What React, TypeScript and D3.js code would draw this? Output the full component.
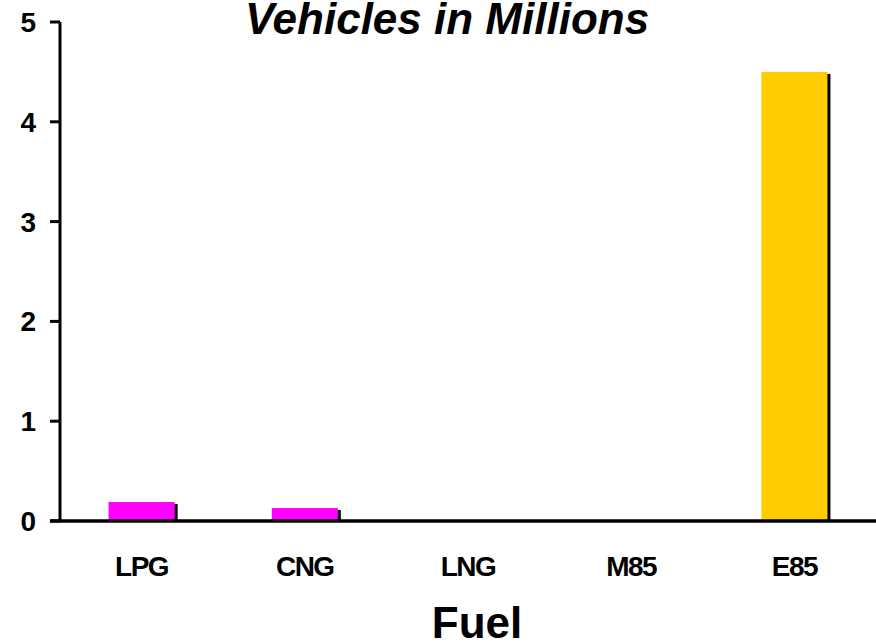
import React from "react";
import * as d3 from "d3";

const fuels = ["LPG", "CNG", "LNG", "M85", "E85"];
const vehicles = [0.19, 0.13, 0, 0, 4.5];
const barColors = ["#FF00FF", "#FF00FF", "#FF00FF", "#FF00FF", "#FFCC00"];
const yTicks = [0, 1, 2, 3, 4, 5];

const W = 876;
const H = 642;
const font = "Arial, 'Liberation Sans', sans-serif";

const App = () => {
  const x = d3.scaleBand<string>()
    .domain(fuels)
    .range([60, 876])
    .paddingInner(0.595)
    .paddingOuter(0.2975);

  const y = d3.scaleLinear().domain([0, 5]).range([521, 22]);

  return (
    <svg width={W} height={H} style={{ position: "absolute", left: 0, top: 0, background: "#fff" }}>
      {/* bars with a small black shadow */}
      {fuels.map((f, i) => {
        const h = y(0) - y(vehicles[i]);
        if (h <= 0) return null;
        return (
          <g key={f}>
            <rect x={x(f)! + 3} y={y(vehicles[i]) + 2} width={x.bandwidth()} height={h - 2} fill="#000" />
            <rect x={x(f)!} y={y(vehicles[i])} width={x.bandwidth()} height={h} fill={barColors[i]} />
          </g>
        );
      })}

      {/* y axis */}
      <line x1={60} x2={60} y1={y(5)} y2={y(0)} stroke="#000" strokeWidth={3} />
      {yTicks.map((t) => (
        <g key={t}>
          <line x1={50} x2={60} y1={y(t)} y2={y(t)} stroke="#000" strokeWidth={3} />
          <text x={36} y={y(t) + 10} textAnchor="end" fontFamily={font} fontWeight="bold" fontSize={28}>
            {t}
          </text>
        </g>
      ))}

      {/* x axis */}
      <line x1={50} x2={876} y1={y(0)} y2={y(0)} stroke="#000" strokeWidth={3.5} />
      {fuels.map((f) => (
        <text key={f} x={x(f)! + x.bandwidth() / 2} y={576} textAnchor="middle"
          fontFamily={font} fontWeight="bold" fontSize={28} letterSpacing={-1.5}>
          {f}
        </text>
      ))}

      <text x={477} y={638} textAnchor="middle" fontFamily={font} fontWeight="bold" fontSize={44}>
        Fuel
      </text>
      <text x={447} y={34} textAnchor="middle" fontFamily={font} fontWeight="bold" fontStyle="italic" fontSize={44}>
        Vehicles in Millions
      </text>
    </svg>
  );
};

export default App;
